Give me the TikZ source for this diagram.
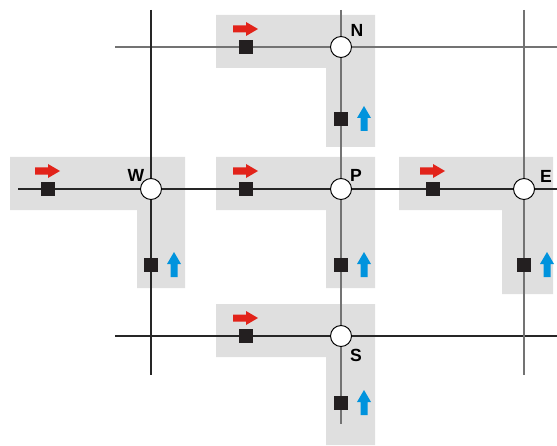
\documentclass[tikz,border=0pt]{standalone}
\usepackage{fontspec}
\setmainfont{Liberation Sans}
\definecolor{cellgray}{HTML}{DFDFDF}
\definecolor{flowred}{HTML}{E2231A}
\definecolor{flowblue}{HTML}{0093DD}
\definecolor{ink}{HTML}{231F20}

\begin{document}
\begin{tikzpicture}[x=0.2mm, y=0.2mm,
    grid/.style={line width=0.6pt, black!85},
    gridlight/.style={line width=0.6pt, black!55},
    pt/.style={circle, draw=black, fill=white, line width=0.55pt, minimum size=4.2mm, inner sep=0pt},
    face/.style={fill=ink, minimum size=2.9mm, inner sep=0pt},
    lbl/.style={inner sep=0pt, font=\bfseries\fontsize{10}{12}\selectfont}]
  \useasboundingbox (0,0) rectangle (557,445);

  % grey control volumes
  \foreach \cx/\cy/\l/\i/\r/\b in {341/398/125/15/34/100, 151/256/141/14/34/99, 341/256/125/15/34/99,
                                     524/256/125/22/29/105, 341/109/125/15/34/109}
    \fill[cellgray] (\cx-\l,\cy+32) -- (\cx+\r,\cy+32) -- (\cx+\r,\cy-\b) -- (\cx-\i,\cy-\b)
                    -- (\cx-\i,\cy-21) -- (\cx-\l,\cy-21) -- cycle;

  % grid lines
  \coordinate (t1) at (115,398); \coordinate (t2) at (557,398);
  \coordinate (m1) at (18,256);  \coordinate (m2) at (557,256);
  \coordinate (b1) at (115,109); \coordinate (b2) at (557,109);
  \coordinate (l1) at (151,435); \coordinate (l2) at (151,70);
  \coordinate (c1) at (341,435); \coordinate (c2) at (341,21);
  \coordinate (r1) at (524,435); \coordinate (r2) at (524,70);
  \draw[gridlight] (t1) -- (t2);
  \draw[grid] (m1) -- (m2);
  \draw[grid] (b1) -- (b2);
  \draw[grid] (l1) -- (l2);
  \draw[gridlight] (c1) -- (c2);
  \draw[gridlight] (r1) -- (r2);

  % faces, flow arrows and grid points
  \foreach \n/\t/\cx/\cy/\h/\v/\dx/\dy in {n/N/341/398/95/72/16/17, w/W/151/256/103/76/-15/14,
                                           p/P/341/256/95/76/15/14, e/E/524/256/91/76/22/13,
                                           s/S/341/109/95/67/15/-19}
  {
    \node[face] (\n-u) at (\cx-\h,\cy) {};
    \node[face] (\n-v) at (\cx,\cy-\v) {};
    \fill[flowred, shift={(\cx-\h,\cy+18)}] (-13,-3.5) -- (0,-3.5) -- (0,-7) -- (12,0)
        -- (0,7) -- (0,3.5) -- (-13,3.5) -- cycle;
    \fill[flowblue, shift={(\cx+23,\cy-\v+1)}] (-3.5,-13) -- (3.5,-13) -- (3.5,0) -- (7,0)
        -- (0,12) -- (-7,0) -- (-3.5,0) -- cycle;
    \node[pt] (\n) at (\cx,\cy) {};
    \node[lbl] (\n-t) at (\cx+\dx,\cy+\dy) {\t};
  }
\end{tikzpicture}
\end{document}
